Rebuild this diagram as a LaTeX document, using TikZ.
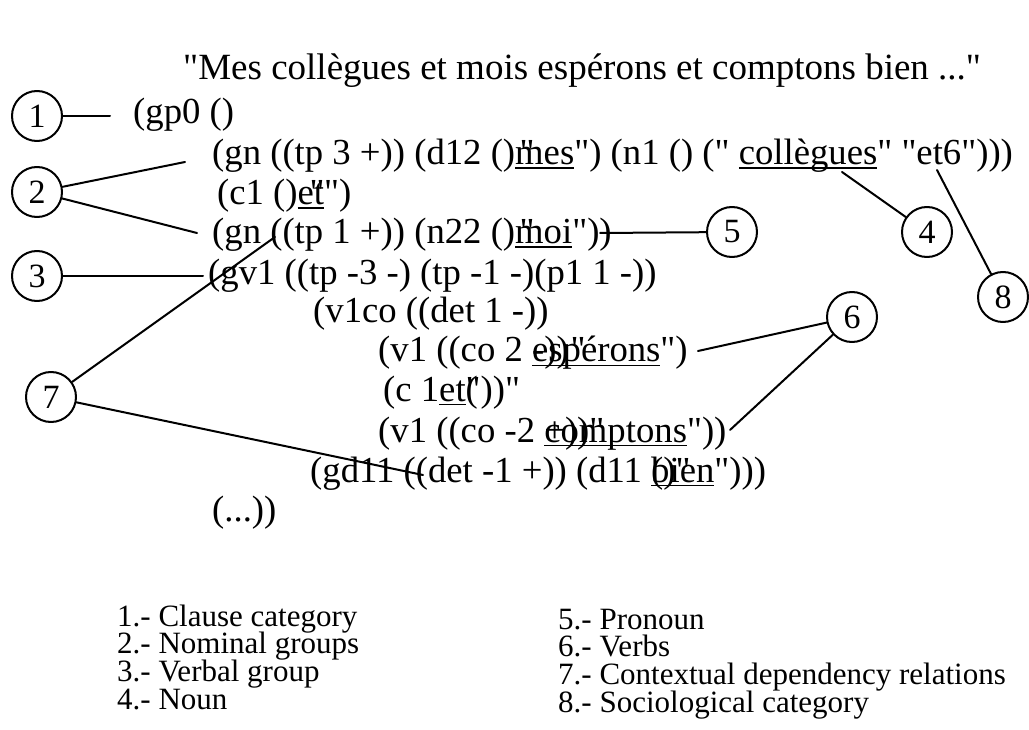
\documentclass[tikz,border=0pt]{standalone}
\usepackage{fontspec}
\setmainfont{Liberation Serif}[Ligatures=TeXOff]

% subrayado grueso para las palabras del texto
\newcommand\subr[1]{\setbox0=\hbox{#1}\rlap{\rule[-4pt]{\wd0}{1.5pt}}\box0}

\begin{document}
\begin{tikzpicture}[x=1pt, y=-1pt, line cap=round, line join=round,
  num/.style={draw, circle, minimum size=50pt, inner sep=0pt, line width=2pt,
    font=\fontsize{34}{34}\selectfont},
  lin/.style={anchor=base west, inner sep=0pt, font=\fontsize{36.7}{40}\selectfont},
  ley/.style={anchor=base west, inner sep=0pt, font=\fontsize{31}{32}\selectfont},
  con/.style={line width=2pt}]
  \fill[white] (0,0) rectangle (1029,730);

  % Frase analizada
  \node[anchor=base west, inner sep=0pt, font=\fontsize{37}{40}\selectfont] (frase) at (183,80)
    {"Mes collègues et mois espérons et comptons bien ..."};

  % Estructura en listas
  \node[lin] (l1)  at (133,124) {(gp0 ()};
  \node[lin] (l2)  at (212,165) {(gn ((tp 3 +)) (d12 ()\rlap{\kern.12em"}\subr{mes}") (n1 () (" \subr{collègues} " "et6")))};
  \node[lin] (l3)  at (217,205) {(c1 ()\subr{e\rlap{\kern-.12em"}t}")};
  \node[lin] (l4)  at (212,244) {(gn ((tp 1 +)) (n22 ()\rlap{\kern.12em"}\subr{moi}"))};
  \node[lin] (l5)  at (208,285) {(gv1 ((tp -3 -) (tp -1 -)(p1 1 -))};
  \node[lin] (l6)  at (313,323) {(v1co ((det 1 -))};
  \node[lin] (l7)  at (378,362) {(v1 ((co 2 \rlap{-))\kern.05em"}\subr{espérons}")};
  \node[lin] (l8)  at (383,401) {(c 1\subr{et}\rlap{(}"))"};
  \node[lin] (l9)  at (378,442) {(v1 ((co -2 \rlap{+))"}\subr{comptons}"))};
  \node[lin] (l10) at (310,482) {(gd11 ((det -1 +)) (d11 \rlap{()"}\subr{bien}")))};
  \node[lin] (l11) at (212,521) {(...))};

  % Marcas numeradas
  \node[num] (c1) at (37,116) {1};
  \node[num] (c2) at (37,192) {2};
  \node[num] (c3) at (37,276) {3};
  \node[num] (c4) at (927,232) {4};
  \node[num] (c5) at (732,232) {5};
  \node[num] (c6) at (852,317) {6};
  \node[num] (c7) at (51,397) {7};
  \node[num] (c8) at (1003,297) {8};

  % Puntos de llegada sobre el texto
  \coordinate (p1) at (110,116);
  \coordinate (p2a) at (185,162);
  \coordinate (p2b) at (197,233);
  \coordinate (p3) at (203,276);
  \coordinate (p4) at (842,172);
  \coordinate (p5) at (600,233);
  \coordinate (p6a) at (698,351);
  \coordinate (p6b) at (730,430);
  \coordinate (p7a) at (275,237);
  \coordinate (p7b) at (423,475);
  \coordinate (p8) at (937,170);

  % Conectores
  \draw[con] (c1) -- (p1);
  \draw[con] (c2) -- (p2a);
  \draw[con] (c2) -- (p2b);
  \draw[con] (c3) -- (p3);
  \draw[con] (c4) -- (p4);
  \draw[con] (c5) -- (p5);
  \draw[con] (c6) -- (p6a);
  \draw[con] (c6) -- (p6b);
  \draw[con] (c7) -- (p7a);
  \draw[con] (c7) -- (p7b);
  \draw[con] (c8) -- (p8);

  % Leyenda
  \node[ley] (le1) at (117,626) {1.- Clause category};
  \node[ley] (le2) at (117,653) {2.- Nominal groups};
  \node[ley] (le3) at (117,681) {3.- Verbal group};
  \node[ley] (le4) at (117,709) {4.- Noun};
  \node[ley] (le5) at (558,629) {5.- Pronoun};
  \node[ley] (le6) at (558,656) {6.- Verbs};
  \node[ley] (le7) at (558,684) {7.- Contextual dependency relations};
  \node[ley] (le8) at (558,712) {8.- Sociological category};
\end{tikzpicture}
\end{document}
